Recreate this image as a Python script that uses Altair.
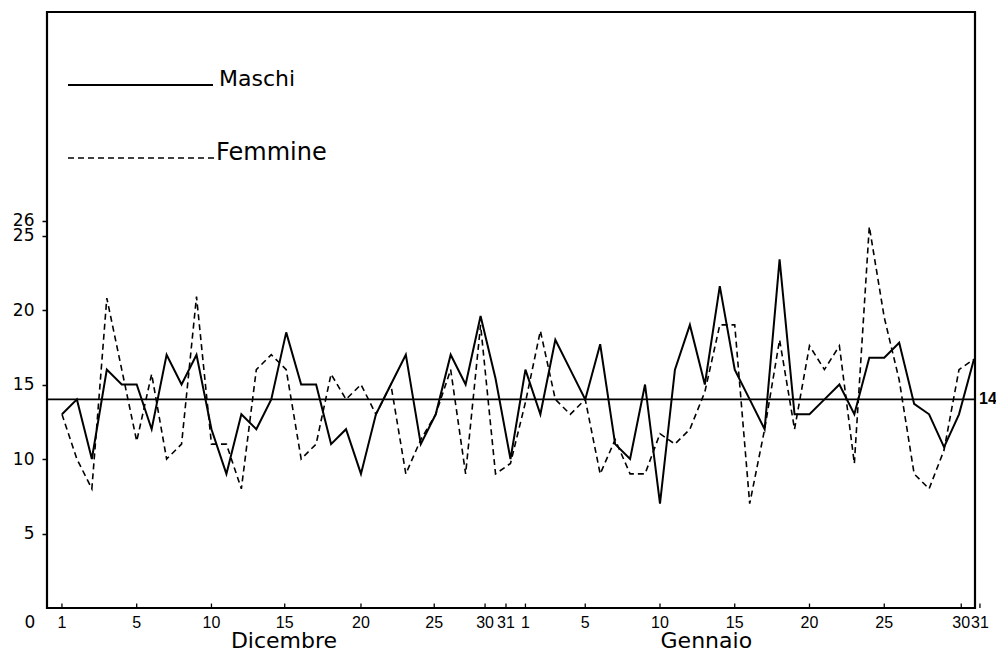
import altair as alt
import pandas as pd

# --- data (Dec 1 .. Jan 31, 62 days) ---
day_index = list(range(62))
maschi = [13, 14, 10, 16, 15, 15, 12, 17, 15, 17,
          12, 9, 13, 12, 14, 18.5, 15, 15, 11, 12,
          9, 13, 15, 17, 11, 13, 17, 15, 19.6, 15.4,
          10, 16, 13, 18, 16, 14, 17.7, 11, 10, 15,
          7, 16, 19, 15, 21.6, 16, 14, 12, 23.4, 13,
          13, 14, 15, 13, 16.8, 16.8, 17.8, 13.7, 13, 10.8,
          13, 16.7]
femmine = [13, 10, 8, 20.8, 16, 11.2, 15.7, 10, 11, 20.9,
           11, 11, 8, 16, 17, 16, 10, 11, 15.7, 14,
           15, 13, 15, 9, 11.3, 13, 16, 9, 19, 9,
           9.7, 13.8, 18.6, 14, 13, 14, 9, 11.3, 9, 9,
           11.7, 11, 12, 14.5, 19, 19, 7, 12, 18, 12,
           17.6, 16, 17.6, 9.7, 25.6, 19.5, 15.3, 9, 8, 10.6,
           16, 16.7]
x_tick_labels = ["1", "5", "10", "15", "20", "25", "30", "31",
                 "1", "5", "10", "15", "20", "25", "30", "31"]
x_tick_pos = [0, 5, 10, 14.9, 20, 24.9, 28.3, 29.7,
              31, 35, 40, 45, 50, 55, 60.15, 61.4]
months = ["Dicembre", "Gennaio"]
month_pos = [14.85, 43.1]
y_ticks = [5, 10, 15, 20, 25, 26]
media = 14
legend_labels = ["Maschi", "Femmine"]

FONT = "DejaVu Sans"
NUMFONT = "Liberation Sans"

df = pd.DataFrame({"idx": day_index, "Maschi": maschi, "Femmine": femmine})
xs = alt.Scale(domain=[-1, 61.07], nice=False, zero=False)
ys = alt.Scale(domain=[0, 40], nice=False)
y_axis = alt.Axis(values=y_ticks, tickSize=5, tickWidth=1.5, tickColor="black",
                  labelPadding=8, labelFontSize=17, labelFont=FONT,
                  labelColor="black", domain=False, grid=False,
                  labelOverlap=False, labelBound=False, title=None)

mean_df = pd.DataFrame({"v": [media], "lbl": [str(media)]})
mean_rule = alt.Chart(mean_df).mark_rule(color="black", strokeWidth=1.6).encode(
    y=alt.Y("v:Q", scale=ys, axis=y_axis, title=None)
)
m_line = alt.Chart(df).mark_line(color="black", strokeWidth=2).encode(
    x=alt.X("idx:Q", scale=xs, axis=None),
    y=alt.Y("Maschi:Q", scale=ys, axis=y_axis, title=None),
)
f_line = alt.Chart(df).mark_line(color="black", strokeWidth=1.6, strokeDash=[6, 4]).encode(
    x=alt.X("idx:Q", scale=xs, axis=None),
    y=alt.Y("Femmine:Q", scale=ys, axis=y_axis, title=None),
)
mean_text = alt.Chart(mean_df).mark_text(
    align="left", baseline="middle", fontSize=16, fontWeight="bold", font=NUMFONT, color="black"
).encode(y=alt.Y("v:Q", scale=ys, axis=y_axis, title=None), x=alt.value(932), text="lbl:N")

ticks_df = pd.DataFrame({"pos": x_tick_pos, "lab": x_tick_labels})
x_ticks = alt.Chart(ticks_df).mark_rule(color="black", strokeWidth=1.3).encode(
    x=alt.X("pos:Q", scale=xs, axis=None),
    y=alt.Y(datum=0, scale=ys, axis=y_axis, title=None),
    y2=alt.Y2(datum=0.3),
)
x_labels = alt.Chart(ticks_df).mark_text(
    fontSize=16, font=NUMFONT, baseline="middle", align="center", color="black"
).encode(x=alt.X("pos:Q", scale=xs, axis=None), y=alt.value(611), text="lab:N")

zero_label = alt.Chart(pd.DataFrame({"t": ["0"]})).mark_text(
    fontSize=17, font=FONT, baseline="middle", align="center", color="black"
).encode(x=alt.value(-17), y=alt.value(611), text="t:N")

month_df = pd.DataFrame({"pos": month_pos, "m": months})
month_labels = alt.Chart(month_df).mark_text(
    fontSize=22, font=FONT, baseline="alphabetic", align="center", color="black"
).encode(x=alt.X("pos:Q", scale=xs, axis=None), y=alt.value(636), text="m:N")

leg_solid = alt.Chart(pd.DataFrame({"k": [0]})).mark_rule(color="black", strokeWidth=1.8).encode(
    x=alt.value(21), x2=alt.value(166), y=alt.value(73)
)
leg_dash = alt.Chart(pd.DataFrame({"k": [0]})).mark_rule(
    color="black", strokeWidth=1.6, strokeDash=[6, 4]
).encode(x=alt.value(21), x2=alt.value(168), y=alt.value(146))
leg_t1 = alt.Chart(pd.DataFrame({"t": [legend_labels[0]]})).mark_text(
    align="left", baseline="middle", fontSize=22, font=FONT, color="black"
).encode(x=alt.value(172), y=alt.value(67), text="t:N")
leg_t2 = alt.Chart(pd.DataFrame({"t": [legend_labels[1]]})).mark_text(
    align="left", baseline="middle", fontSize=24, font=FONT, color="black"
).encode(x=alt.value(169), y=alt.value(141), text="t:N")

chart = alt.layer(
    mean_rule, f_line, m_line, mean_text, x_ticks, x_labels, zero_label, month_labels,
    leg_solid, leg_dash, leg_t1, leg_t2,
).properties(
    width=928, height=596,
    autosize=alt.AutoSizeParams(type="none"),
    padding={"left": 39, "top": 4, "right": 21, "bottom": 41},
    background="white",
).configure_view(stroke="black", strokeWidth=2.2)

chart.save("out.html", embed_options={"renderer": "svg", "actions": False})
